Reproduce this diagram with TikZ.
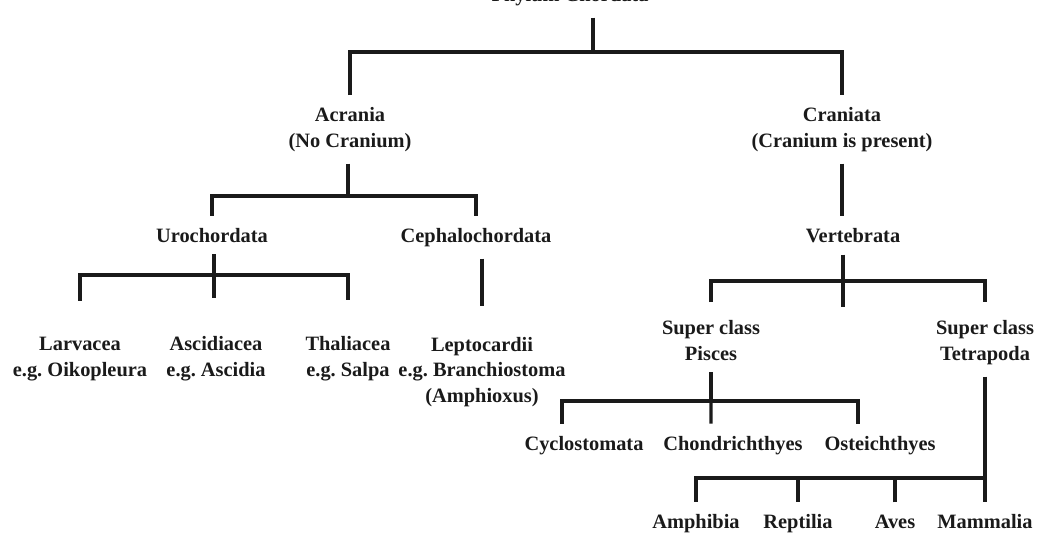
\documentclass[tikz,border=0pt]{standalone}
\usepackage{fontspec}
\setmainfont{Liberation Serif}
\usepackage{tikz}
\definecolor{inkblack}{HTML}{1A1A1A}

\begin{document}
\begin{tikzpicture}[
  x=0.025cm, y=-0.025cm,
  every node/.style={font=\fontsize{14.5}{18.1}\selectfont\bfseries, align=center, inner xsep=2pt, inner ysep=0.3cm, text=inkblack, anchor=base},
  tree/.style={line width=2.3pt, draw=inkblack},
  leafdrop/.style={tree, shorten <=#1, shorten >=#1},
  leafdrop/.default=0.6cm
]
\useasboundingbox (0,0) rectangle (1037,533);

% taxa (base = last line)
\node (chordata) at (570,1) {Phylum Chordata};
\node (acrania) at (350,147) {Acrania\\(No Cranium)};
\node (craniata) at (842,147) {Craniata\\(Cranium is present)};
\node (uro) at (212,242) {Urochordata};
\node (cepha) at (476,242) {Cephalochordata};
\node (vert) at (853,242) {Vertebrata};
\node (larva) at (80,376) {Larvacea\\e.g.\ Oikopleura};
\node (ascid) at (216,376) {Ascidiacea\\e.g.\ Ascidia};
\node (thal) at (348,376) {Thaliacea\\e.g.\ Salpa};
\node (lepto) at (482,402) {Leptocardii\\e.g.\ Branchiostoma\\(Amphioxus)};
\node (pisces) at (711,360) {Super class\\Pisces};
\node (tetra) at (985,360) {Super class\\Tetrapoda};
\node (cyclo) at (584,450) {Cyclostomata};
\node (chond) at (733,450) {Chondrichthyes};
\node (oste) at (880,450) {Osteichthyes};
\node (amph) at (696,528) {Amphibia};
\node (rept) at (798,528) {Reptilia};
\node (aves) at (895,528) {Aves};
\node (mamm) at (985,528) {Mammalia};

% junctions
\coordinate (topj) at (593,52);
\coordinate (acrj) at (348,196);
\coordinate (uroj) at (214,275);
\coordinate (verj) at (843,281);
\coordinate (verstub) at (843,307);
\coordinate (pisj) at (711,401);
\coordinate (tetj) at (985,478);

% branches
\draw[tree] (chordata.south -| topj) -- (topj);
\draw[tree] (acrania.north) |- (topj) -| (craniata.north);
\draw[tree] (acrania.south -| acrj) -- (acrj);
\draw[tree] (uro.north) |- (acrj) -| (cepha.north);
\draw[tree, shorten >=0.65cm] (uro.south -| uroj) -- (ascid.north -| uroj);
\draw[leafdrop] (larva.north) |- (uroj) -| (thal.north);
\draw[tree, shorten >=0.46cm] (cepha.south -| lepto.north) -- (lepto.north);
\draw[tree] (craniata.south) -- (craniata.south |- vert.north);
\draw[tree] (vert.south -| verj) -- (verstub);
\draw[leafdrop=0.15cm] (pisces.north) |- (verj) -| (tetra.north);
\draw[tree] (pisces.south) -- (pisj);
\draw[tree] ([xshift=-0.55cm]cyclo.north) |- (pisj) -| ([xshift=-0.55cm]oste.north);
\draw[tree] (pisj) -- ([xshift=-0.55cm]chond.north);
\draw[tree] (tetra.south) -- (mamm.north);
\draw[tree] (amph.north) |- (tetj);
\draw[tree] (rept.north) -- (rept.north |- tetj);
\draw[tree] (aves.north) -- (aves.north |- tetj);
\end{tikzpicture}
\end{document}
